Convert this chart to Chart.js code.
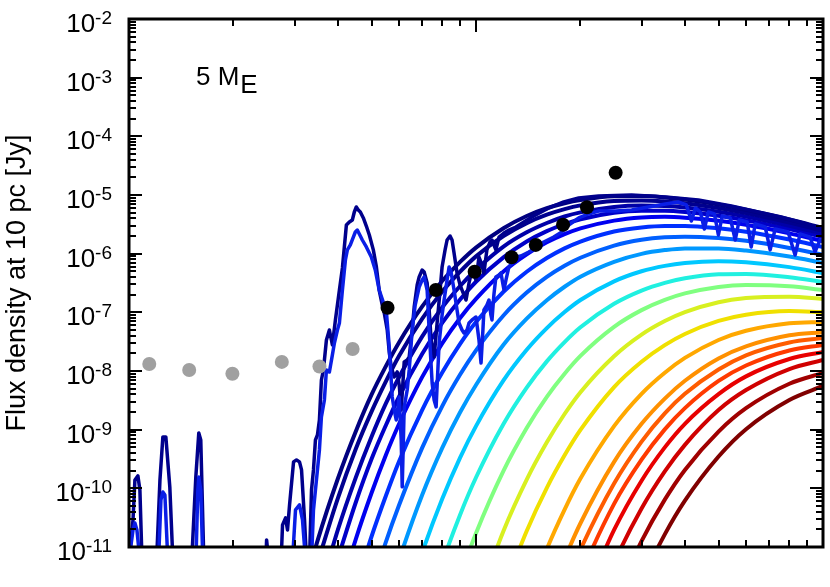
<!DOCTYPE html>
<html><head><meta charset="utf-8">
<script src="https://cdn.jsdelivr.net/npm/chart.js@4/dist/chart.umd.min.js"></script>
<style>html,body{margin:0;padding:0;background:#fff;}canvas{display:block;}</style>
</head><body>
<canvas id="c" width="830" height="587" style="width:830px;height:587px"></canvas>
<script>
// ---------- DATA ----------
const wavelengthGrid = [3,3.5,4,4.5,5,5.5,6,7,8,9,10,12,14,16,18,20,25,30,35,40,50,60,80,100];

const curve00 = [5.0e-13,1.32e-11,1.47e-10,9.25e-10,3.95e-9,1.21e-8,3.07e-8,1.26e-7,3.45e-7,7.23e-7,1.27e-6,2.72e-6,4.38e-6,5.94e-6,7.23e-6,8.20e-6,9.48e-6,9.57e-6,9.08e-6,8.38e-6,6.89e-6,5.61e-6,3.83e-6,2.74e-6];
const curve01 = [null,5.56e-12,6.83e-11,4.65e-10,2.03e-9,6.66e-9,1.80e-8,7.83e-8,2.26e-7,4.93e-7,8.99e-7,2.00e-6,3.32e-6,4.62e-6,5.75e-6,6.65e-6,7.91e-6,8.08e-6,7.75e-6,7.21e-6,6.01e-6,4.93e-6,3.39e-6,2.44e-6];
const curve02 = [null,1.34e-12,1.97e-11,1.51e-10,7.57e-10,2.80e-9,7.82e-9,3.89e-8,1.22e-7,2.81e-7,5.31e-7,1.32e-6,2.31e-6,3.33e-6,4.30e-6,5.05e-6,6.23e-6,6.60e-6,6.47e-6,6.10e-6,5.17e-6,4.29e-6,2.99e-6,2.17e-6];
const curve03 = [null,null,6.45e-12,5.68e-11,3.15e-10,1.19e-9,3.64e-9,1.97e-8,6.69e-8,1.66e-7,3.32e-7,8.64e-7,1.61e-6,2.42e-6,3.18e-6,3.86e-6,4.99e-6,5.38e-6,5.37e-6,5.13e-6,4.42e-6,3.72e-6,2.63e-6,1.91e-6];
const curve04 = [null,null,1.31e-12,1.34e-11,8.34e-11,3.71e-10,1.25e-9,7.94e-9,2.99e-8,8.01e-8,1.69e-7,4.95e-7,9.76e-7,1.56e-6,2.15e-6,2.70e-6,3.66e-6,4.14e-6,4.24e-6,4.11e-6,3.63e-6,3.10e-6,2.22e-6,1.64e-6];
const curve05 = [null,null,null,2.05e-12,1.51e-11,7.47e-11,2.87e-10,2.18e-9,9.51e-9,2.89e-8,6.82e-8,2.24e-7,4.91e-7,8.41e-7,1.23e-6,1.61e-6,2.39e-6,2.80e-6,2.97e-6,2.97e-6,2.71e-6,2.36e-6,1.74e-6,1.30e-6];
const curve06 = [null,null,null,null,2.00e-12,1.22e-11,5.15e-11,4.95e-10,2.55e-9,8.69e-9,2.25e-8,8.84e-8,2.17e-7,4.02e-7,6.22e-7,8.51e-7,1.37e-6,1.72e-6,1.90e-6,1.95e-6,1.85e-6,1.66e-6,1.25e-6,9.54e-7];
const curve07 = [null,null,null,null,null,1.14e-12,5.99e-12,7.77e-11,4.95e-10,1.98e-9,5.78e-9,2.80e-8,7.80e-8,1.61e-7,2.73e-7,4.05e-7,7.27e-7,9.92e-7,1.15e-6,1.23e-6,1.23e-6,1.13e-6,8.94e-7,6.94e-7];
const curve08 = [null,null,null,null,null,null,4.66e-13,8.10e-12,6.69e-11,3.34e-10,1.15e-9,6.90e-9,2.30e-8,5.39e-8,1.01e-7,1.62e-7,3.37e-7,5.01e-7,6.19e-7,6.94e-7,7.44e-7,7.12e-7,5.90e-7,4.69e-7];
const curve09 = [null,null,null,null,null,null,null,4.69e-13,5.45e-12,3.56e-11,1.53e-10,1.25e-9,5.22e-9,1.46e-8,3.11e-8,5.56e-8,1.40e-7,2.35e-7,3.18e-7,3.80e-7,4.44e-7,4.50e-7,3.97e-7,3.29e-7];
const curve10 = [null,null,null,null,null,null,null,null,3.6e-13,3.12e-12,1.72e-11,1.99e-10,1.07e-9,3.63e-9,8.99e-9,1.81e-8,5.66e-8,1.09e-7,1.63e-7,2.10e-7,2.71e-7,2.92e-7,2.78e-7,2.40e-7];
const curve11 = [null,null,null,null,null,null,null,null,null,null,1.00e-12,1.88e-11,1.41e-10,6.10e-10,1.85e-9,4.36e-9,1.79e-8,4.18e-8,7.12e-8,1.01e-7,1.49e-7,1.75e-7,1.85e-7,1.69e-7];
const curve12 = [null,null,null,null,null,null,null,null,null,null,null,1.85e-12,1.88e-11,1.02e-10,3.65e-10,9.88e-10,5.32e-9,1.44e-8,2.76e-8,4.28e-8,7.13e-8,9.07e-8,1.05e-7,1.01e-7];
const curve13 = [null,null,null,null,null,null,null,null,null,null,null,null,1.20e-12,9.26e-12,4.35e-11,1.47e-10,1.15e-9,4.09e-9,9.36e-9,1.67e-8,3.38e-8,4.85e-8,6.51e-8,6.84e-8];
const curve14 = [null,null,null,null,null,null,null,null,null,null,null,null,null,1.04e-12,6.23e-12,2.54e-11,2.83e-10,1.26e-9,3.39e-9,6.82e-9,1.64e-8,2.63e-8,4.06e-8,4.60e-8];
const curve15 = [null,null,null,null,null,null,null,null,null,null,null,null,null,null,2.04e-12,9.04e-12,1.21e-10,6.27e-10,1.90e-9,4.08e-9,1.06e-8,1.85e-8,3.07e-8,3.65e-8];
const curve16 = [null,null,null,null,null,null,null,null,null,null,null,null,null,null,6.4e-13,3.24e-12,5.43e-11,3.08e-10,1.01e-9,2.33e-9,6.77e-9,1.24e-8,2.24e-8,2.78e-8];
const curve17 = [null,null,null,null,null,null,null,null,null,null,null,null,null,null,null,9.47e-13,1.95e-11,1.35e-10,4.99e-10,1.26e-9,4.04e-9,8.10e-9,1.60e-8,2.11e-8];
const curve18 = [null,null,null,null,null,null,null,null,null,null,null,null,null,null,null,1.84e-13,5.32e-12,4.52e-11,1.94e-10,5.51e-10,2.16e-9,4.73e-9,1.08e-8,1.54e-8];
const curve19 = [null,null,null,null,null,null,null,null,null,null,null,null,null,null,null,null,1.20e-12,1.26e-11,6.41e-11,2.06e-10,9.28e-10,2.32e-9,6.06e-9,9.24e-9];
const curve20 = [null,null,null,null,null,null,null,null,null,null,null,null,null,null,null,null,1.74e-13,2.57e-12,1.64e-11,6.17e-11,3.49e-10,1.02e-9,3.21e-9,5.56e-9];

const planckColors = ['#000080','#00008f','#0000a8','#0000c8','#0000f0','#0030ff','#0060ff','#0098ff','#00c8ff','#20f0e0','#80ff80','#d8f020','#f0e000','#ffa800','#ff9000','#ff5c00','#ff3a00','#e80000','#d00000','#a00000','#800000'];

const navyWave = [1.000,1.027,1.040,1.061,1.075,1.090,1.112,1.188,1.228,1.252,1.277,1.311,1.338,1.497,1.558,1.589,1.610,1.643,1.709,2.459,2.492,2.525,2.716,2.770,2.826,2.863,2.902,2.980,3.039,3.100,3.142,3.205,3.247,3.313,3.357,3.401,3.446,3.492,3.538,3.585,3.633,3.706,3.780,3.856,3.934,4.040,4.121,4.231,4.316,4.402,4.460,4.519,4.579,4.642,4.735,4.830,4.927,5.059,5.159,5.260,5.369,5.440,5.549,5.623,5.698,5.813,5.929,6.008,6.088,6.210,6.335,6.419,6.548,6.635,6.768,6.858,6.996,7.089,7.231,7.328,7.425,7.574,7.726,7.881,7.985,8.145,8.254,8.419,8.531,8.645,8.818,8.995,9.115,9.360,9.548,9.739,10.00,10.20,10.40,10.54,10.75,10.97,11.12,11.41,11.65,12.04,12.44,13.03,13.74,14.49,16.21,17.90,19.77,22.56,28.08,35.15,43.74,54.40,65.05,75.74,87.61,100];
const navyFlux = [6.0e-12,2.89e-11,1.39e-10,1.63e-10,9.38e-11,6.0e-12,1.25e-12,1.25e-12,1.39e-10,7.51e-10,7.51e-10,1.06e-10,6.0e-12,1.25e-12,1.56e-10,8.79e-10,6.68e-10,6.0e-12,1.25e-12,1.25e-12,1.32e-11,6.0e-12,1.25e-12,2.38e-11,3.13e-11,1.95e-11,5.21e-11,2.82e-10,3.05e-10,2.82e-10,2.06e-10,2.89e-11,6.0e-12,6.0e-12,9.38e-11,2.06e-10,6.68e-10,8.12e-10,1.46e-9,7.03e-9,1.04e-8,3.38e-8,5.00e-8,2.78e-8,7.41e-8,2.40e-7,5.70e-7,3.08e-6,3.47e-6,3.75e-6,5.13e-6,6.25e-6,5.55e-6,5.13e-6,4.06e-6,2.96e-6,2.08e-6,1.16e-6,6.17e-7,2.40e-7,1.33e-7,9.75e-8,5.00e-8,2.11e-8,1.17e-8,7.91e-9,9.63e-9,5.78e-9,2.17e-9,1.43e-8,1.54e-8,1.73e-8,5.00e-8,1.23e-7,2.93e-7,4.01e-7,5.27e-7,4.87e-7,3.17e-7,1.10e-7,3.38e-8,1.73e-8,6.59e-8,2.40e-7,5.93e-7,1.16e-6,1.71e-6,2.00e-6,1.71e-6,1.03e-6,4.69e-7,2.93e-7,2.40e-7,1.62e-7,3.17e-7,5.27e-7,3.56e-7,8.78e-7,6.42e-7,4.69e-7,1.16e-6,1.58e-6,1.71e-6,1.16e-6,1.92e-6,2.25e-6,2.53e-6,2.85e-6,3.47e-6,4.22e-6,6.01e-6,7.60e-6,8.89e-6,9.62e-6,1.00e-5,9.25e-6,8.22e-6,6.50e-6,5.13e-6,4.22e-6,3.33e-6,2.63e-6];

const blueWave = [1.000,1.027,1.040,1.054,1.075,1.204,1.236,1.252,1.269,1.294,1.548,1.579,1.589,1.610,1.632,2.940,2.960,3.019,3.100,3.162,3.226,3.357,3.401,3.469,3.538,3.585,3.657,3.706,3.780,3.856,3.908,3.987,4.040,4.121,4.204,4.259,4.344,4.431,4.490,4.549,4.642,4.703,4.830,4.992,5.125,5.260,5.404,5.512,5.623,5.735,5.813,5.890,5.969,6.008,6.088,6.129,6.210,6.335,6.419,6.548,6.679,6.858,6.996,7.089,7.231,7.328,7.475,7.574,7.675,7.829,7.985,8.092,8.254,8.364,8.475,8.645,8.818,8.936,9.115,9.236,9.422,9.548,9.739,10.00,10.20,10.34,10.47,10.54,10.75,10.90,11.04,11.12,11.26,11.41,11.65,11.80,12.04,12.20,12.44,12.77,13.03,13.47,14.20,14.87,15.68,16.75,17.67,18.50,19.77,21.12,22.56,25.26,28.08,31.42,35.15,38.31,40.39,41.75,42.88,44.32,45.51,46.71,48.65,49.95,51.24,54.05,55.86,57.36,60.48,62.10,63.77,68.13,70.42,72.79,79.33,83.09,85.89,91.77,94.85,98.03,100];
const blueFlux = [6.0e-12,1.95e-11,2.57e-11,1.95e-11,6.0e-12,1.25e-12,6.34e-11,8.67e-11,7.71e-11,6.0e-12,1.25e-12,9.38e-11,1.56e-10,9.38e-11,6.0e-12,1.25e-12,6.0e-12,4.28e-11,5.21e-11,2.89e-11,6.0e-12,6.0e-12,4.28e-11,1.39e-10,4.51e-10,1.65e-9,3.21e-9,1.04e-8,9.63e-9,1.88e-8,3.00e-8,5.00e-8,6.59e-8,2.40e-7,7.81e-7,1.16e-6,1.41e-6,1.92e-6,2.34e-6,2.53e-6,2.00e-6,1.71e-6,1.30e-6,8.78e-7,5.27e-7,2.40e-7,1.50e-7,1.10e-7,2.57e-8,3.61e-9,2.17e-9,1.46e-9,2.64e-9,3.61e-9,6.68e-10,1.06e-10,2.44e-9,4.75e-9,1.04e-8,5.00e-8,1.33e-7,2.70e-7,3.56e-7,4.01e-7,2.40e-7,5.00e-8,6.25e-9,3.21e-9,2.44e-9,3.00e-8,9.02e-8,1.62e-7,3.56e-7,5.93e-7,4.87e-7,2.40e-7,1.10e-7,6.59e-8,5.00e-8,4.45e-8,5.00e-8,6.59e-8,7.41e-8,8.33e-8,3.38e-8,1.37e-8,5.00e-8,1.10e-7,1.33e-7,1.62e-7,9.02e-8,7.41e-8,1.98e-7,4.01e-7,4.33e-7,4.69e-7,2.40e-7,3.56e-7,5.93e-7,7.22e-7,8.78e-7,9.13e-7,1.07e-6,1.25e-6,1.58e-6,1.92e-6,2.34e-6,3.08e-6,4.06e-6,4.75e-6,5.34e-6,5.34e-6,5.55e-6,6.25e-6,7.03e-6,7.60e-6,6.76e-6,3.61e-6,6.01e-6,5.13e-6,2.63e-6,5.13e-6,4.75e-6,2.08e-6,4.39e-6,4.06e-6,1.71e-6,3.75e-6,3.47e-6,1.30e-6,3.21e-6,2.85e-6,1.16e-6,2.63e-6,2.34e-6,9.50e-7,2.17e-6,1.92e-6,1.07e-6,1.71e-6,1.58e-6];

const blackWave = [5.56,7.66,9.91,12.66,14.87,17.82,20.88,25.26];
const blackFlux = [1.20e-7,2.40e-7,4.93e-7,8.68e-7,1.41e-6,3.12e-6,6.18e-6,2.40e-5];
const greyWave = [1.144,1.491,1.986,2.757,3.539,4.41];
const greyFlux = [1.32e-8,1.04e-8,9.0e-9,1.43e-8,1.19e-8,2.37e-8];

const yTickPowers = [-2,-3,-4,-5,-6,-7,-8,-9,-10,-11];
const yTitle = 'Flux density at 10 pc [Jy]';
const panelLabel = '5 M';
const panelLabelSub = 'E';

// ---------- BUILD ----------
const pairs = (xs, ys) => ys.map((v, i) => ({x: xs[i], y: v}));
const curves = [curve00,curve01,curve02,curve03,curve04,curve05,curve06,curve07,curve08,curve09,curve10,curve11,curve12,curve13,curve14,curve15,curve16,curve17,curve18,curve19,curve20];

const datasets = [];
datasets.push({label:'photometry', data: pairs(blackWave, blackFlux), showLine:false, pointRadius:7, pointBackgroundColor:'#000', pointBorderWidth:0, borderColor:'#000', order:0, clip:0});
datasets.push({label:'upper', data: pairs(greyWave, greyFlux), showLine:false, pointRadius:7, pointBackgroundColor:'#a0a0a0', pointBorderWidth:0, borderColor:'#a0a0a0', order:1, clip:0});
datasets.push({label:'spec2', data: pairs(blueWave, blueFlux), borderColor:'#0a1ee6', borderWidth:3.5, pointRadius:0, tension:0, borderJoinStyle:'round', order:2, clip:0});
datasets.push({label:'spec1', data: pairs(navyWave, navyFlux), borderColor:'#00008c', borderWidth:3.5, pointRadius:0, tension:0, borderJoinStyle:'round', order:3, clip:0});
curves.forEach((arr, i) => {
  datasets.push({label:'bb'+i, data: pairs(wavelengthGrid, arr), borderColor: planckColors[i], borderWidth:4, pointRadius:0, cubicInterpolationMode:'monotone', order: 10 + i, clip:0});
});

const BASE = '"Liberation Sans", Arial, Helvetica, sans-serif';
const framePlugin = {
  id: 'framePlugin',
  afterDraw(chart) {
    const {ctx, chartArea: a, scales: {x, y}} = chart;
    ctx.save();
    ctx.strokeStyle = '#000';
    ctx.lineCap = 'butt';
    // y ticks
    ctx.lineWidth = 2;
    for (let e = -11; e <= -2; e++) {
      for (let m = 1; m <= 9; m++) {
        if (e === -2 && m > 1) break;
        const py = Math.round(y.getPixelForValue(m * Math.pow(10, e)));
        const len = m === 1 ? 13 : 7;
        ctx.beginPath();
        ctx.moveTo(a.left, py); ctx.lineTo(a.left + len, py);
        ctx.moveTo(a.right, py); ctx.lineTo(a.right - len, py);
        ctx.stroke();
      }
    }
    // x ticks
    for (let e = 0; e <= 2; e++) {
      for (let m = 1; m <= 9; m++) {
        if (e === 2 && m > 1) break;
        const px = Math.round(x.getPixelForValue(m * Math.pow(10, e)));
        const len = m === 1 ? 13 : 7;
        ctx.beginPath();
        ctx.moveTo(px, a.bottom); ctx.lineTo(px, a.bottom - len);
        ctx.moveTo(px, a.top); ctx.lineTo(px, a.top + len);
        ctx.stroke();
      }
    }
    // frame
    ctx.lineWidth = 3;
    ctx.strokeRect(a.left, a.top, a.right - a.left, a.bottom - a.top);
    // y tick labels
    ctx.fillStyle = '#000';
    ctx.textBaseline = 'alphabetic';
    ctx.textAlign = 'left';
    const baseFont = '26px ' + BASE, supFont = '19px ' + BASE;
    yTickPowers.forEach(p => {
      const py = y.getPixelForValue(Math.pow(10, p));
      const sup = String(p);
      ctx.font = supFont; const sw = ctx.measureText(sup).width;
      ctx.font = baseFont; const bw = ctx.measureText('10').width;
      const right = 112;
      ctx.fillText('10', right - sw - bw, py + 13);
      ctx.font = supFont; ctx.fillText(sup, right - sw, py + 5);
    });
    // y title
    ctx.save();
    ctx.translate(25, (a.top + a.bottom) / 2);
    ctx.rotate(-Math.PI / 2);
    ctx.textAlign = 'center';
    ctx.font = '27px ' + BASE;
    ctx.fillText(yTitle, 0, 0);
    ctx.restore();
    // panel label
    ctx.font = '26px ' + BASE;
    ctx.textAlign = 'left';
    ctx.fillText(panelLabel, 196, 85);
    const w = ctx.measureText(panelLabel).width;
    ctx.fillText(panelLabelSub, 196 + w + 1, 93);
    ctx.restore();
  }
};

new Chart(document.getElementById('c'), {
  type: 'line',
  data: { datasets },
  options: {
    responsive: false,
    devicePixelRatio: 1,
    animation: false,
    events: [],
    layout: { padding: { left: 129, right: 5, top: 19, bottom: 40 } },
    plugins: { legend: { display: false }, tooltip: { enabled: false }, title: { display: false } },
    scales: {
      x: { type: 'logarithmic', min: 1, max: 100, display: false },
      y: { type: 'logarithmic', min: 1e-11, max: 1e-2, display: false }
    },
    elements: { line: { fill: false } }
  },
  plugins: [framePlugin]
});
</script>
</body></html>
